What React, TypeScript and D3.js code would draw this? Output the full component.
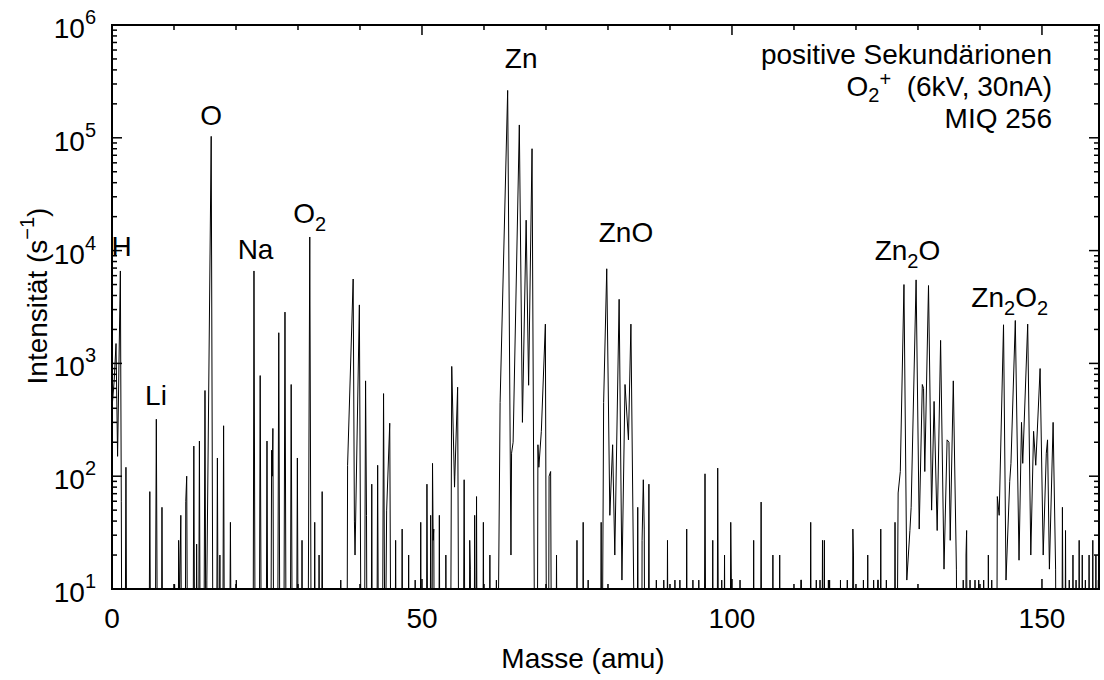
import React from "react";
import * as d3 from "d3";

// spectrum: [mass (amu), counts per second]
// values of 1 lie below the axis floor (10 s^-1) and are clipped
const lowMass: [number, number][] = [
  [0.0, 400], [0.35, 700], [0.65, 1500], [0.9, 150], [1.35, 6600], [1.5, 60], [1.6, 1],
  [2.1, 1], [2.25, 120], [2.4, 1],
  [5.95, 1], [6.1, 73], [6.25, 1], [6.95, 1], [7.15, 320], [7.35, 1], [7.95, 1], [8.06, 53], [8.2, 1],
  [10.0, 1], [10.1, 11], [10.2, 1], [10.65, 1], [10.75, 27], [10.9, 8], [11.1, 45], [11.25, 1],
  [11.8, 1], [11.9, 60], [12.05, 100], [12.2, 1],
  [13.05, 1], [13.2, 185], [13.35, 1], [13.55, 1], [13.65, 25], [13.8, 1],
  [13.95, 1], [14.1, 205], [14.25, 1], [14.8, 1], [15.0, 575], [15.15, 1], [15.25, 1], [15.3, 12],
  [16.0, 103000], [16.3, 1],
  [16.85, 1], [17.0, 145], [17.15, 1], [17.3, 1], [17.4, 20], [17.5, 1],
  [17.85, 1], [18.0, 280], [18.15, 1], [18.95, 1], [19.1, 39], [19.25, 1],
  [19.95, 1], [20.05, 12], [20.15, 1],
  [22.75, 1], [22.9, 6600], [23.1, 1], [23.75, 1], [23.9, 780], [24.1, 1],
  [24.85, 1], [25.0, 205], [25.15, 1], [25.6, 1], [25.75, 170], [25.85, 100], [25.95, 265], [26.1, 1],
  [26.7, 1], [26.9, 1870], [27.1, 1], [27.7, 1], [27.9, 2850], [28.1, 1],
  [28.75, 1], [28.9, 650], [29.1, 1], [29.75, 1], [29.9, 145], [30.05, 1],
  [30.55, 1], [30.65, 27], [30.75, 1],
  [31.6, 1], [31.9, 13200], [32.15, 1], [32.6, 1], [32.7, 39], [32.8, 1],
  [33.3, 1], [33.4, 20], [33.5, 1], [33.8, 1], [33.9, 73], [34.0, 1],
  [36.8, 1], [36.9, 12], [37.0, 1],
  [37.9, 1], [38.0, 125], [38.9, 5600], [39.1, 40], [39.2, 20], [39.9, 3300], [40.2, 1],
  [40.7, 1], [40.9, 700], [41.05, 45], [41.15, 1], [41.8, 1], [41.9, 85], [42.0, 1],
  [42.7, 1], [42.85, 125], [43.0, 1], [43.6, 1], [43.8, 540], [44.05, 1], [44.3, 50], [44.8, 295], [45.0, 1],
  [45.65, 1], [45.75, 27], [45.85, 1], [46.7, 1], [46.8, 34], [46.9, 1],
  [47.75, 1], [47.85, 20], [47.95, 1], [48.85, 1], [48.9, 12], [49.0, 1],
  [49.7, 1], [49.8, 39], [49.9, 1], [50.7, 1], [50.8, 85], [50.95, 1],
  [51.3, 1], [51.4, 45], [51.5, 1], [51.6, 1], [51.7, 130], [51.8, 27], [51.9, 34], [52.0, 1],
  [52.7, 1], [52.8, 45], [52.9, 1], [53.8, 1], [53.85, 20], [53.95, 1],
  [54.6, 1], [54.8, 940], [55.25, 80], [55.3, 100], [55.75, 615], [55.95, 1],
  [56.65, 1], [56.8, 93], [56.95, 1], [57.6, 1], [57.7, 27], [57.8, 15], [57.9, 1],
  [58.4, 1], [58.5, 45], [58.6, 1], [58.7, 1], [58.8, 66], [58.9, 1],
  [59.8, 1], [59.9, 39], [60.0, 1], [60.85, 1], [60.95, 20], [61.05, 1],
  [61.9, 1], [62.0, 12], [62.1, 1],
];

const znRegion: [number, number][] = [
  [62.2, 1], [62.6, 450], [63.82, 263000], [64.35, 20], [64.45, 160], [64.7, 200],
  [65.7, 130000], [66.2, 300], [66.8, 18600], [67.2, 640], [67.75, 80000], [68.2, 1],
  [68.6, 1], [68.7, 190], [68.85, 120], [69.25, 250], [69.9, 2230], [70.1, 1],
  [70.4, 1], [70.5, 100], [70.75, 110], [70.9, 1],
  [71.6, 1], [71.7, 20], [71.8, 1], [74.9, 1], [75.0, 27], [75.1, 1],
  [75.9, 1], [76.0, 39], [76.1, 1], [76.7, 1], [76.8, 12], [76.9, 1],
  [78.8, 1], [78.9, 39], [79.0, 1], [79.05, 1], [79.3, 450], [79.8, 6900], [80.3, 45],
  [80.75, 190], [81.1, 20], [81.8, 3700], [82.25, 12], [82.75, 650], [83.3, 210],
  [83.7, 2230], [84.15, 10], [84.25, 1],
  [84.7, 1], [84.8, 53], [84.9, 1], [85.45, 1], [85.5, 27], [85.7, 93], [85.85, 34], [85.95, 1],
  [86.5, 1], [86.6, 85], [86.7, 1], [87.7, 1], [87.8, 12], [87.9, 1],
  [88.95, 1], [89.0, 12], [89.1, 1], [89.5, 1], [89.6, 27], [89.7, 1],
  [90.7, 1], [90.8, 12], [90.9, 1], [91.5, 1], [91.6, 12], [91.7, 1],
  [92.6, 1], [92.7, 34], [92.8, 1],
];

const midMass: [number, number][] = [
  [93.6, 1], [93.7, 12], [93.8, 1], [94.6, 1], [94.65, 12], [94.75, 1],
  [95.5, 1], [95.65, 105], [95.8, 1], [96.8, 1], [96.9, 27], [97.0, 1],
  [97.6, 1], [97.7, 118], [97.85, 1], [98.3, 1], [98.35, 12], [98.45, 1],
  [98.7, 1], [98.8, 20], [98.9, 1], [99.7, 1], [99.8, 39], [99.9, 12], [100.0, 1],
  [101.2, 1], [101.3, 12], [101.4, 1], [103.4, 1], [103.5, 27], [103.6, 1],
  [104.6, 1], [104.7, 59], [104.8, 1], [106.5, 1], [106.6, 20], [106.7, 1],
  [107.6, 1], [107.7, 20], [107.8, 1], [109.9, 1], [110.0, 10], [110.1, 1],
  [111.0, 1], [111.1, 12], [111.2, 12], [111.3, 1], [112.6, 1], [112.7, 39], [112.8, 1],
  [113.5, 1], [113.6, 12], [113.7, 1], [114.1, 1], [114.2, 12], [114.3, 1],
  [114.5, 1], [114.6, 27], [114.7, 1], [114.8, 1], [114.9, 27], [115.0, 1],
  [115.5, 1], [115.55, 12], [115.65, 1], [115.75, 12], [115.85, 1],
  [117.4, 1], [117.5, 12], [117.6, 1], [118.5, 1], [118.6, 12], [118.7, 1],
  [119.4, 1], [119.5, 34], [119.6, 20], [119.7, 1], [121.1, 1], [121.2, 12], [121.3, 1],
  [121.8, 1], [121.9, 20], [122.0, 1], [122.8, 1], [122.85, 12], [122.95, 1],
  [123.4, 1], [123.5, 12], [123.6, 12], [123.7, 1], [123.9, 1], [124.0, 34], [124.1, 1],
  [124.8, 1], [124.9, 12], [125.0, 1],
];

const zn2Region: [number, number][] = [
  [126.2, 1], [126.3, 39], [126.4, 1], [126.6, 1], [126.8, 71], [127.15, 110],
  [127.74, 5000], [128.2, 12], [128.7, 33], [128.9, 53], [129.7, 5500], [130.2, 34],
  [130.7, 650], [130.9, 600], [131.1, 110], [131.7, 4900], [132.2, 50], [132.6, 460],
  [133.1, 33], [133.65, 1600], [134.2, 15], [134.7, 210], [135.0, 200], [135.2, 27],
  [135.7, 700], [136.2, 15], [136.3, 1],
  [137.2, 1], [137.3, 12], [137.4, 1], [137.7, 1], [137.75, 20], [137.85, 33], [137.95, 1],
  [138.3, 1], [138.4, 12], [138.5, 1], [139.1, 1], [139.2, 12], [139.3, 1],
  [139.7, 1], [139.8, 12], [139.9, 1], [140.5, 1], [140.6, 12], [140.7, 1],
  [141.3, 1], [141.35, 20], [141.45, 1], [141.8, 1], [141.9, 12], [142.0, 1],
  [142.7, 1], [142.8, 66], [143.1, 45], [143.8, 2200], [144.2, 12], [144.8, 90],
  [145.0, 130], [145.7, 2400], [146.3, 18], [146.7, 300], [146.9, 130], [147.7, 2230],
  [148.2, 20], [148.65, 250], [149.0, 125], [149.7, 900], [150.2, 20], [150.7, 160],
  [150.9, 210], [151.2, 15], [151.8, 300], [152.2, 15], [152.3, 1],
];

const highMass: [number, number][] = [
  [153.2, 1], [153.3, 53], [153.45, 1], [153.7, 1], [153.8, 33], [153.9, 1],
  [154.3, 1], [154.4, 12], [154.5, 1], [154.9, 1], [155.0, 20], [155.1, 1],
  [155.4, 1], [155.5, 12], [155.6, 1], [155.9, 1], [156.0, 27], [156.1, 1],
  [156.4, 1], [156.5, 20], [156.6, 1], [156.9, 1], [157.0, 12], [157.1, 1],
  [157.5, 1], [157.6, 20], [157.7, 1], [158.1, 1], [158.2, 27], [158.3, 1],
  [158.6, 1], [158.7, 20], [158.8, 1], [159.0, 1], [159.1, 12], [159.2, 1],
];

// peak labels: [text, subscript] parts, mass position, intensity at baseline
const peakLabels = [
  { parts: [["H", ""]], m: 1.55, v: 8900 },
  { parts: [["Li", ""]], m: 7.1, v: 427 },
  { parts: [["O", ""]], m: 16.0, v: 131000 },
  { parts: [["Na", ""]], m: 23.15, v: 8500 },
  { parts: [["O", "2"]], m: 31.9, v: 17700 },
  { parts: [["Zn", ""]], m: 66.0, v: 415000 },
  { parts: [["ZnO", ""]], m: 82.9, v: 12000 },
  { parts: [["Zn", "2"], ["O", ""]], m: 128.3, v: 8300 },
  { parts: [["Zn", "2"], ["O", "2"]], m: 144.8, v: 3160 },
];

const xMajor = [0, 50, 100, 150];
const xMinor = [10, 20, 30, 40, 60, 70, 80, 90, 110, 120, 130, 140];
const yDecades = [1, 2, 3, 4, 5, 6];

const W = 1104;
const H = 680;
const left = 112;
const right = 1099;
const top = 25;
const bottom = 589;
const font = "'Liberation Sans', Arial, Helvetica, sans-serif";
const fs = 28;
const fsSmall = 20;

export default function App() {
  const x = d3.scaleLinear().domain([0, 159.2]).range([left, right]);
  const y = d3.scaleLog().domain([10, 1e6]).range([bottom, top]);

  const line = d3
    .line<[number, number]>()
    .x((d) => x(d[0]))
    .y((d) => y(d[1]));

  const spectrum = [...lowMass, ...znRegion, ...midMass, ...zn2Region, ...highMass];
  const yTicks = y.ticks();

  return (
    <div style={{ position: "absolute", left: 0, top: 0 }}>
      <svg width={W} height={H} style={{ display: "block", background: "#fff" }} fontFamily={font}>
        <defs>
          <clipPath id="plotArea">
            <rect x={left} y={top} width={right - left} height={bottom - top} />
          </clipPath>
        </defs>

        {/* data */}
        <path
          d={line(spectrum) || ""}
          fill="none"
          stroke="#000"
          strokeWidth={1}
          clipPath="url(#plotArea)"
        />

        {/* y ticks, both sides */}
        {yTicks.map((t, i) => {
          const major = Math.abs(Math.log10(t) - Math.round(Math.log10(t))) < 1e-9;
          const len = major ? 10 : 5;
          return (
            <g key={"yt" + i} stroke="#000" strokeWidth={1.5}>
              <line x1={left} x2={left + len} y1={y(t)} y2={y(t)} />
              <line x1={right} x2={right - len} y1={y(t)} y2={y(t)} />
            </g>
          );
        })}

        {/* x ticks, both sides */}
        {xMajor.map((t) => (
          <g key={"xM" + t} stroke="#000" strokeWidth={1.5}>
            <line x1={x(t)} x2={x(t)} y1={bottom} y2={bottom - 10} />
            <line x1={x(t)} x2={x(t)} y1={top} y2={top + 10} />
          </g>
        ))}
        {xMinor.map((t) => (
          <g key={"xm" + t} stroke="#000" strokeWidth={1.5}>
            <line x1={x(t)} x2={x(t)} y1={bottom} y2={bottom - 5} />
            <line x1={x(t)} x2={x(t)} y1={top} y2={top + 5} />
          </g>
        ))}

        {/* frame */}
        <rect
          x={left}
          y={top}
          width={right - left}
          height={bottom - top}
          fill="none"
          stroke="#000"
          strokeWidth={2}
        />

        {/* y tick labels */}
        {yDecades.map((k) => (
          <text key={"yl" + k} x={96} y={y(Math.pow(10, k)) + 13} textAnchor="end" fontSize={fs}>
            <tspan>10</tspan>
            <tspan dy={-14} fontSize={fsSmall}>{k}</tspan>
          </text>
        ))}

        {/* x tick labels */}
        {xMajor.map((t) => (
          <text key={"xl" + t} x={x(t)} y={628} textAnchor="middle" fontSize={fs}>
            {t}
          </text>
        ))}

        {/* axis titles */}
        <text x={583} y={668} textAnchor="middle" fontSize={fs}>
          Masse (amu)
        </text>
        <text transform="translate(47,296) rotate(-90)" textAnchor="middle" fontSize={fs}>
          <tspan>Intensität (s</tspan>
          <tspan dy={-13} fontSize={fsSmall}>−1</tspan>
          <tspan dy={13}>)</tspan>
        </text>

        {/* peak labels */}
        {peakLabels.map((p, i) => (
          <text key={"pl" + i} x={x(p.m)} y={y(p.v)} textAnchor="middle" fontSize={fs}>
            {p.parts.map(([main, sub], j) => (
              <React.Fragment key={j}>
                <tspan dy={j > 0 && p.parts[j - 1][1] ? -8 : 0}>{main}</tspan>
                {sub ? (
                  <tspan dy={8} fontSize={fsSmall}>
                    {sub}
                  </tspan>
                ) : null}
              </React.Fragment>
            ))}
          </text>
        ))}

        {/* annotation, top right */}
        <g fontSize={fs} textAnchor="end">
          <text x={1052} y={64}>positive Sekundärionen</text>
          <text x={1052} y={96}>
            <tspan>O</tspan>
            <tspan dy={6} fontSize={fsSmall}>2</tspan>
            <tspan dy={-16} fontSize={fsSmall}>+</tspan>
            <tspan dy={10}>{"\u00a0\u00a0(6kV, 30nA)"}</tspan>
          </text>
          <text x={1052} y={128}>MIQ 256</text>
        </g>
      </svg>
    </div>
  );
}
